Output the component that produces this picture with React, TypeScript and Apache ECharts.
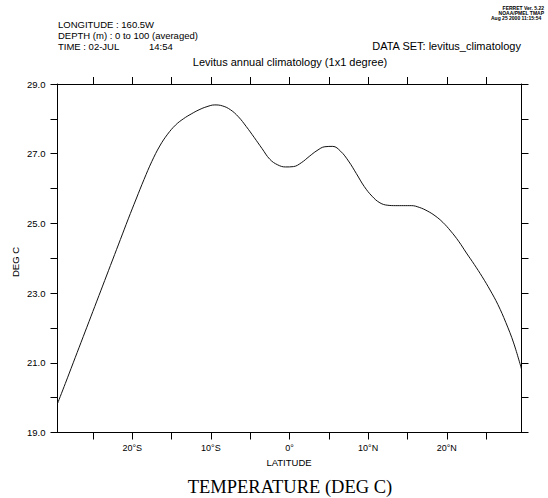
import React, { useEffect, useRef } from "react";
import * as echarts from "echarts";

const latitudes: number[] = [
  -29.5, -28.5, -27.5, -26.5, -25.5, -24.5, -23.5, -22.5, -21.5, -20.5,
  -19.5, -18.5, -17.5, -16.5, -15.5, -14.5, -13.5, -12.5, -11.5, -10.5,
  -9.5, -8.5, -7.5, -6.5, -5.5, -4.5, -3.5, -2.5, -1.5, -0.5,
  0.5, 1.5, 2.5, 3.5, 4.5, 5.5, 6.5, 7.5, 8.5, 9.5,
  10.5, 11.5, 12.5, 13.5, 14.5, 15.5, 16.5, 17.5, 18.5, 19.5,
  20.5, 21.5, 22.5, 23.5, 24.5, 25.5, 26.5, 27.5, 28.5, 29.5,
];

const temperature: number[] = [
  19.83, 20.41, 21.0, 21.59, 22.18, 22.77, 23.36, 23.95, 24.54, 25.13,
  25.7, 26.26, 26.78, 27.22, 27.56, 27.82, 28.0, 28.14, 28.26, 28.35,
  28.4, 28.37, 28.26, 28.06, 27.78, 27.47, 27.15, 26.84, 26.68, 26.62,
  26.63, 26.74, 26.92, 27.09, 27.2, 27.21, 27.07, 26.79, 26.43, 26.06,
  25.78, 25.59, 25.52, 25.51, 25.51, 25.51, 25.46, 25.36, 25.22, 25.03,
  24.78, 24.49, 24.15, 23.82, 23.47, 23.09, 22.67, 22.16, 21.57, 20.82,
];

const xTickValues: number[] = [-25, -20, -15, -10, -5, 0, 5, 10, 15, 20, 25];
const xLabelValues: number[] = [-20, -10, 0, 10, 20];

const headerLines: string[] = [
  "LONGITUDE : 160.5W",
  "DEPTH (m) : 0 to 100 (averaged)",
  "TIME : 02-JUL",
];
const timeOfDay = "14:54";
const dataSetText = "DATA SET: levitus_climatology";
const subTitle = "Levitus annual climatology (1x1 degree)";
const ferretLines: string[] = ["FERRET Ver. 5.22", "NOAA/PMEL TMAP", "Aug 25 2000 11:15:54"];
const xName = "LATITUDE";
const yName = "DEG C";
const mainTitle = "TEMPERATURE (DEG C)";

const SANS = "'Liberation Sans', Arial, sans-serif";

function txt(
  text: string,
  x: number,
  y: number,
  font: string,
  align: string = "left",
  extra: any = {}
) {
  return {
    type: "text",
    x,
    y,
    ...extra,
    style: {
      text,
      font,
      fill: "#000",
      textAlign: align,
      align,
      textVerticalAlign: "middle",
      verticalAlign: "middle",
    },
  };
}

function latLabel(v: number): string {
  const r = Math.round(v);
  if (r === 0) return "0°";
  return r < 0 ? `${-r}°S` : `${r}°N`;
}

export default function App() {
  const ref = useRef<HTMLDivElement>(null);

  useEffect(() => {
    if (!ref.current) return;
    const chart = echarts.init(ref.current, undefined, { renderer: "svg" });
    const axisLine = { show: true, onZero: false, lineStyle: { color: "#000", width: 1 } };
    const tickStyle = { color: "#000", width: 1 };
    const option: any = {
      animation: false,
      backgroundColor: "#fff",
      grid: { left: 57.5, right: 26.5, top: 84, bottom: 65.5, containLabel: false },
      xAxis: [
        {
          type: "value",
          position: "bottom",
          min: -29.5,
          max: 29.5,
          axisLine,
          splitLine: { show: false },
          axisTick: { show: true, inside: false, length: 7, customValues: xTickValues, lineStyle: tickStyle },
          axisLabel: {
            show: true,
            customValues: xLabelValues,
            formatter: (v: number) => latLabel(v),
            margin: 11,
            fontSize: 9,
            fontFamily: SANS,
            color: "#000",
          },
        },
        {
          type: "value",
          position: "top",
          min: -29.5,
          max: 29.5,
          axisLine,
          splitLine: { show: false },
          axisTick: { show: true, inside: false, length: 7, customValues: xTickValues, lineStyle: tickStyle },
          axisLabel: { show: false },
        },
      ],
      yAxis: [
        {
          type: "value",
          position: "left",
          min: 19,
          max: 29,
          interval: 1,
          axisLine,
          splitLine: { show: false },
          axisTick: { show: true, inside: false, length: 7, lineStyle: tickStyle },
          axisLabel: {
            show: true,
            formatter: (v: number) => (Math.round(v) % 2 === 1 ? v.toFixed(1) : ""),
            margin: 12,
            fontSize: 9.5,
            fontFamily: SANS,
            color: "#000",
          },
        },
        {
          type: "value",
          position: "right",
          min: 19,
          max: 29,
          interval: 1,
          axisLine,
          splitLine: { show: false },
          axisTick: { show: true, inside: false, length: 7, lineStyle: tickStyle },
          axisLabel: { show: false },
        },
      ],
      series: [
        {
          type: "line",
          xAxisIndex: 0,
          yAxisIndex: 0,
          data: latitudes.map((lat, i) => [lat, temperature[i]]),
          showSymbol: false,
          symbol: "none",
          smooth: 0.4,
          lineStyle: { color: "#111", width: 1 },
          clip: true,
        },
      ],
      graphic: [
        txt(headerLines[0], 58, 24, `9.5px ${SANS}`),
        txt(headerLines[1], 58, 35, `9.5px ${SANS}`),
        txt(headerLines[2], 58, 46, `9.5px ${SANS}`),
        txt(timeOfDay, 149, 46, `9.5px ${SANS}`),
        txt(dataSetText, 521, 46, `11px ${SANS}`, "right"),
        txt(subTitle, 290, 62, `11px ${SANS}`, "center"),
        txt(ferretLines[0], 544, 8, `bold 5px ${SANS}`, "right"),
        txt(ferretLines[1], 544, 13, `bold 5px ${SANS}`, "right"),
        txt(ferretLines[2], 491, 18, `bold 5px ${SANS}`, "left"),
        txt(xName, 289, 462, `9.5px ${SANS}`, "center"),
        txt(yName, 15, 262, `9.5px ${SANS}`, "center", { rotation: Math.PI / 2 }),
        txt(mainTitle, 290, 487, `18.5px 'Liberation Serif', 'Times New Roman', serif`, "center"),
      ],
    };
    chart.setOption(option);
    return () => chart.dispose();
  }, []);

  return (
    <div
      ref={ref}
      style={{ position: "fixed", left: 0, top: 0, width: 548, height: 498, background: "#fff" }}
    />
  );
}
